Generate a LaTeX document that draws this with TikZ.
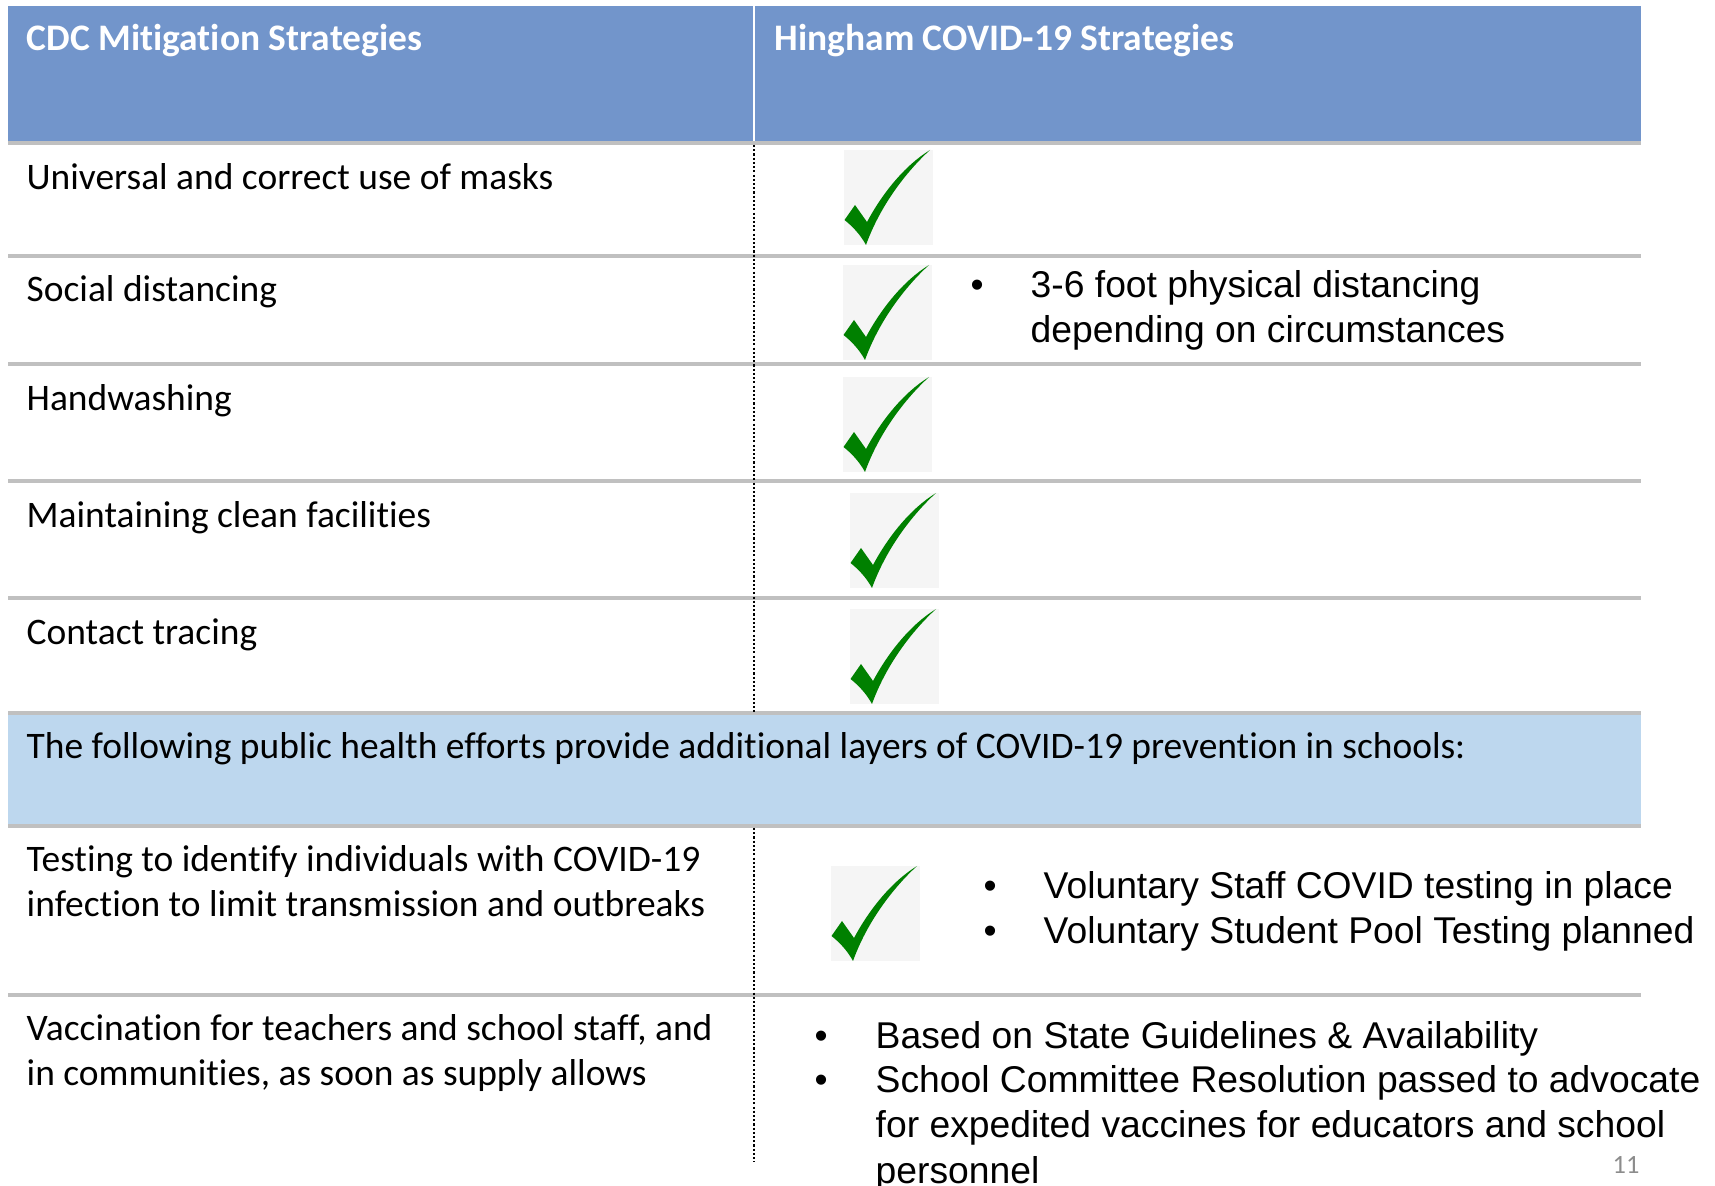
\documentclass[tikz,border=0pt]{standalone}
\usepackage{fontspec}
\setmainfont{Carlito}[Ligatures=NoCommon]
\newfontfamily\arialfont{Liberation Sans}
\usetikzlibrary{positioning}

\definecolor{headblue}{RGB}{114,149,203}
\definecolor{bandblue}{RGB}{189,215,238}
\definecolor{rulegray}{RGB}{192,192,192}
\definecolor{tickgreen}{RGB}{0,128,0}
\definecolor{tickback}{RGB}{245,245,245}
\definecolor{pagegray}{RGB}{140,140,140}

\begin{document}
\begin{tikzpicture}[x=0.01cm, y=-0.01cm]
		\tikzstyle{head} = [anchor=base west, inner sep=0pt, text=white, font=\fontsize{10.65}{12.8}\selectfont\bfseries]
		\tikzstyle{cdc} = [anchor=base west, inner sep=0pt, align=left, font=\fontsize{10.65}{12.8}\selectfont]
		\tikzstyle{note} = [anchor=base west, inner sep=0pt, align=left, font=\arialfont\fontsize{10.6}{12.8}\selectfont]
		\tikzstyle{dot} = [anchor=base west, inner sep=0pt, font=\arialfont\fontsize{10.6}{12.8}\selectfont]
		\tikzstyle{rule} = [draw=rulegray, line width=0.9pt]
		\tikzstyle{divider} = [draw=black, line width=0.6pt, dash pattern=on 0.6pt off 0.6pt]
		\tikzset{greencheck/.pic={
			\fill[tickback] (0,0) rectangle (89,95);
			\fill[tickgreen] (0.5,70) -- (11,55) -- (23,72)
				.. controls (38,44) and (60,16) .. (86,0)
				.. controls (62,22) and (36,56) .. (22,95)
				.. controls (16,84) and (8,76) .. cycle;
		}}
		
		\useasboundingbox (0,0) rectangle (1715,1186);
		
		% header and band
		\fill[headblue] (8,6) rectangle (1641,143);
		\fill[bandblue] (8,713) rectangle (1641,826);
		\draw[white, line width=0.8pt] (754,6) -- (754,143);
		
		% rules
		\draw[rule] (8,143) -- (1641,143);
		\draw[rule] (8,256) -- (1641,256);
		\draw[rule] (8,364) -- (1641,364);
		\draw[rule] (8,481) -- (1641,481);
		\draw[rule] (8,598) -- (1641,598);
		\draw[rule] (8,713) -- (1641,713);
		\draw[rule] (8,826) -- (1641,826);
		\draw[rule] (8,995) -- (1641,995);
		\draw[divider] (754,145) -- (754,712);
		\draw[divider] (754,828) -- (754,1162);
		
		% header texts
		\node[head] at (26,51) (cdchead) {CDC Mitigation Strategies};
		\node[head] at (774,51) (hinghamhead) {Hingham COVID-19 Strategies};
		
		% left column (multi-line nodes sit on their last baseline)
		\node[cdc] at (26,190) (masks) {Universal and correct use of masks};
		\node[cdc] at (26,302) (distancing) {Social distancing};
		\node[cdc] at (26,411) (handwashing) {Handwashing};
		\node[cdc] at (26,528) (facilities) {Maintaining clean facilities};
		\node[cdc] at (26,645) (tracing) {Contact tracing};
		\node[cdc] at (26,759) (layers) {The following public health efforts provide additional layers of COVID-19 prevention in schools:};
		\node[cdc] at (26,917) (testing) {Testing to identify individuals with COVID-19\\infection to limit transmission and outbreaks};
		\node[cdc] at (26,1086) (vaccination) {Vaccination for teachers and school staff, and\\in communities, as soon as supply allows};
		
		% checks
		\pic at (844,150) {greencheck};
		\pic at (843,265) {greencheck};
		\pic at (843,377) {greencheck};
		\pic at (850,493) {greencheck};
		\pic at (850,609) {greencheck};
		\pic at (831,866) {greencheck};
		
		% right column
		\node[dot] at (970,298) (dota) {•};
		\node[note] at (1030,343) (feet) {3-6 foot physical distancing\\depending on circumstances};
		\node[dot] at (983,899) (dotb) {•};
		\node[dot] at (983,944) (dotc) {•};
		\node[note] at (1043,899) (staff) {Voluntary Staff COVID testing in place};
		\node[note] at (1043,944) (pool) {Voluntary Student Pool Testing planned};
		\node[dot] at (814,1048) (dotd) {•};
		\node[dot] at (814,1093) (dote) {•};
		\node[note] at (875,1048) (state) {Based on State Guidelines \& Availability};
		\node[note] at (875,1183) (resolution) {School Committee Resolution passed to advocate\\for expedited vaccines for educators and school\\personnel};
		
		\node[text=pagegray, inner sep=0pt, font=\fontsize{7.5}{9}\selectfont] at (1626,1165) (page) {11};
\end{tikzpicture}
\end{document}
